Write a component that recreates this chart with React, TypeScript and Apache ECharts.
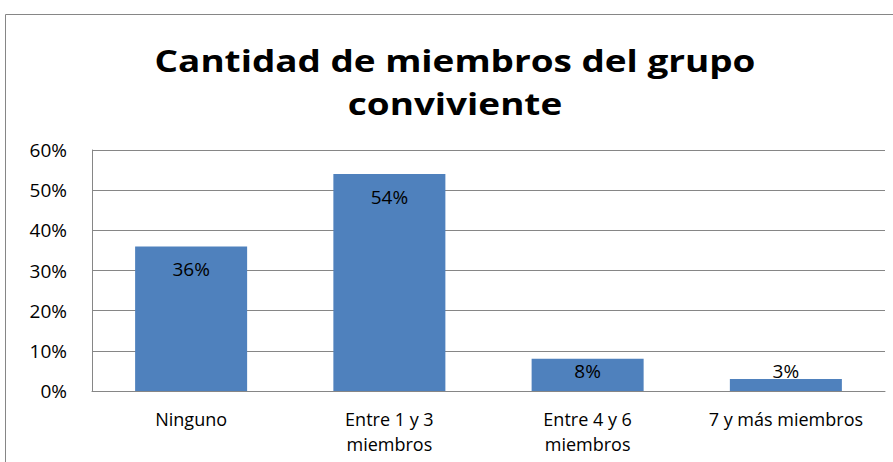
import React, { useEffect, useRef } from "react";
import * as echarts from "echarts";

const categories = ["Ninguno", "Entre 1 y 3\nmiembros", "Entre 4 y 6\nmiembros", "7 y más miembros"];
const values = [36, 54, 8, 3];
const yTicks = [0, 10, 20, 30, 40, 50, 60];
const titleLines = ["Cantidad de miembros del grupo", "conviviente"];

export default function App() {
  const ref = useRef<HTMLDivElement>(null);
  useEffect(() => {
    const chart = echarts.init(ref.current!, null, { renderer: "svg" });
    const font = "'Open Sans', 'Noto Sans', sans-serif";
    chart.setOption({
      animation: false,
      backgroundColor: "#ffffff",
      graphic: [
        {
          type: "rect",
          shape: { x: 5.5, y: 14.5, width: 1000, height: 1000 },
          style: { fill: "none", stroke: "#868686", lineWidth: 1 },
          silent: true,
        },
        ...titleLines.map((t, i) => ({
          type: "text",
          x: 455,
          y: 60 + i * 43,
          scaleX: 1.23,
          style: {
            text: t,
            font: "bold 30px 'Open Sans', sans-serif",
            fill: "#000",
            textAlign: "center",
            textVerticalAlign: "middle",
          },
          silent: true,
        })),
      ],
      grid: { left: 92, right: 8, top: 150, bottom: 71 },
      xAxis: {
        type: "category",
        data: categories,
        axisLine: { lineStyle: { color: "#868686" } },
        axisTick: { show: false },
        axisLabel: { fontFamily: font, fontSize: 18, color: "#000", lineHeight: 25, margin: 15, interval: 0 },
      },
      yAxis: {
        type: "value",
        min: yTicks[0],
        max: yTicks[yTicks.length - 1],
        interval: 10,
        axisLine: { show: true, lineStyle: { color: "#868686" } },
        axisTick: { show: false },
        splitLine: { lineStyle: { color: "#868686" } },
        axisLabel: { fontFamily: font, fontSize: 19, color: "#000", margin: 25, formatter: (v: number) => v + "%" },
      },
      series: [
        {
          type: "bar",
          barCategoryGap: "43.5%",
          itemStyle: { color: "#4F81BD" },
          data: values.map((v) => ({
            value: v,
            label: v > 20
              ? { position: "insideTop", distance: 13 }
              : { position: "insideBottom", distance: 11 },
          })),
          label: {
            show: true,
            fontFamily: font,
            fontSize: 19,
            color: "#000",
            formatter: (p: any) => p.value + "%",
          },
        },
      ],
    });
    return () => chart.dispose();
  }, []);
  return <div ref={ref} style={{ position: "fixed", left: 0, top: 0, width: 893, height: 462 }} />;
}
